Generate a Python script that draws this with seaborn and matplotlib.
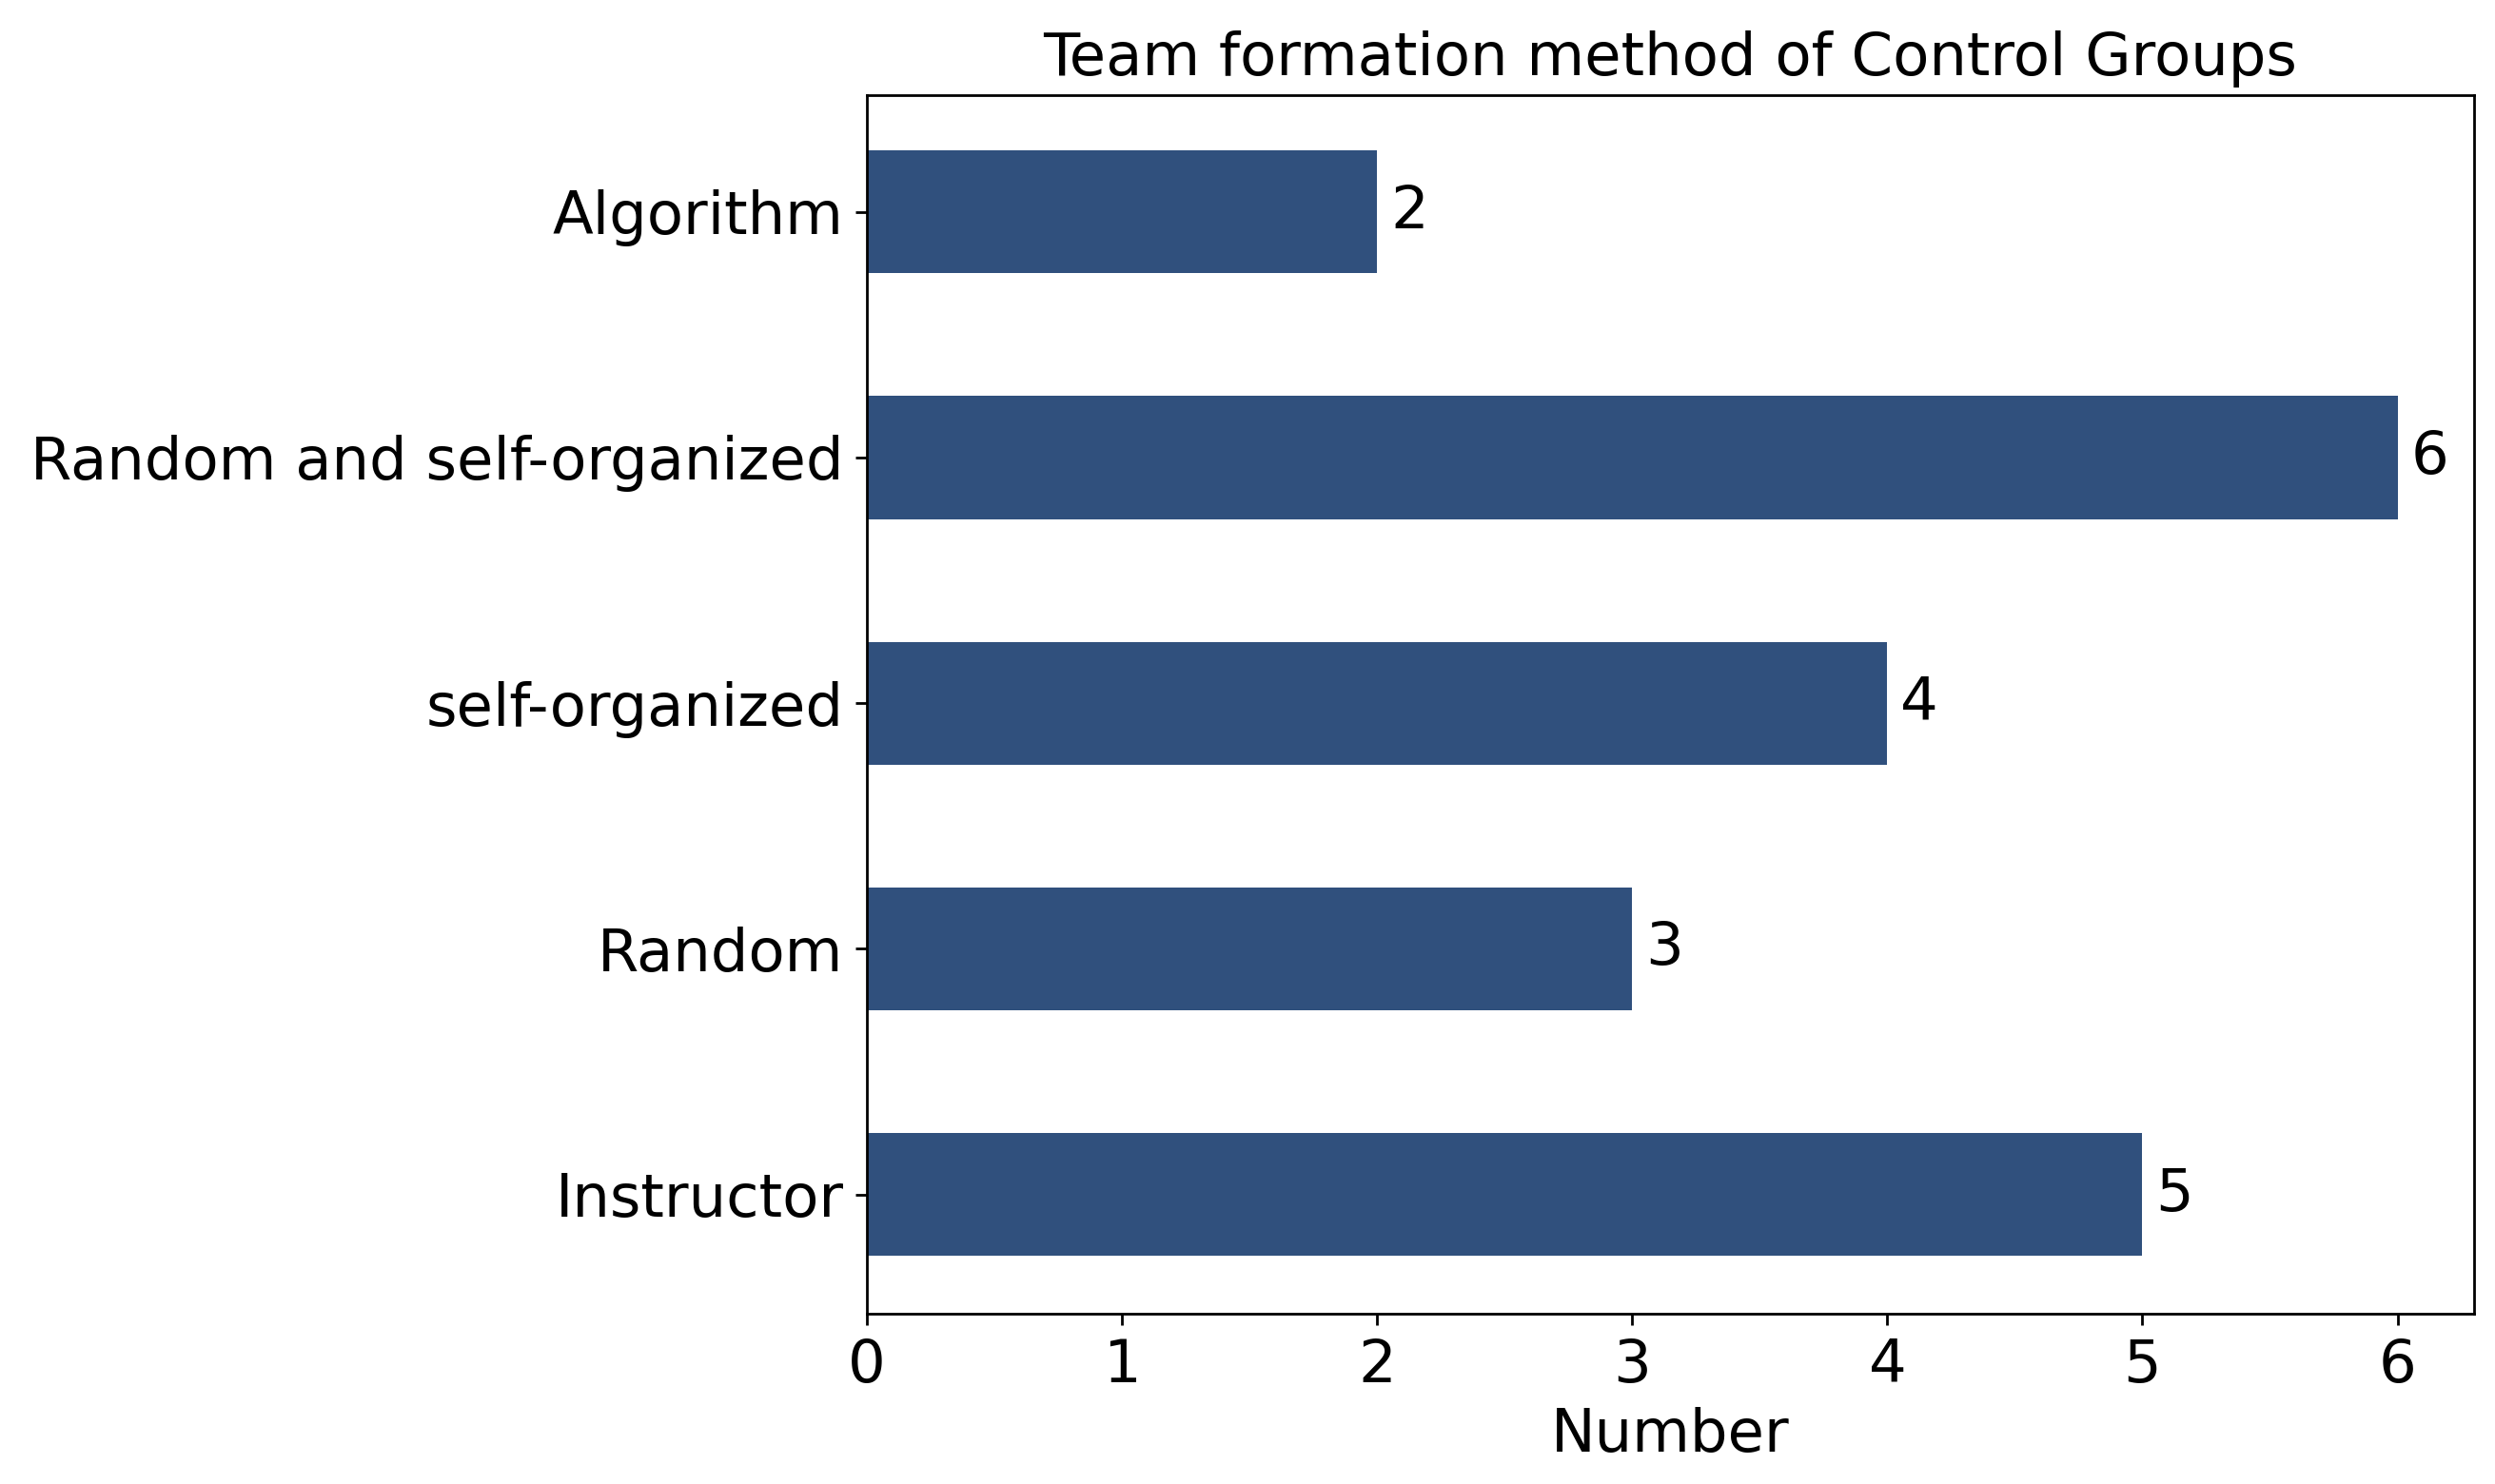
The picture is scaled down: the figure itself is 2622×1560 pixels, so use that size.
import pandas as pd
import matplotlib
matplotlib.use("Agg")
import matplotlib.pyplot as plt
import seaborn as sns

metodos = ["Algorithm", "Random and self-organized", "self-organized", "Random", "Instructor"]
numeros = [2, 6, 4, 3, 5]

df = pd.DataFrame({"metodo": metodos, "numero": numeros})

fs = 22.5
fig, ax = plt.subplots(figsize=(13.11, 7.8), dpi=200)
sns.barplot(data=df, x="numero", y="metodo", order=metodos, color="#30507d",
            width=0.5, saturation=1, orient="h", ax=ax)
ax.bar_label(ax.containers[0], padding=5, fontsize=fs)

ax.set_ylim(4.486, -0.476)
ax.set_xlim(0, 6.3)
ax.set_title("Team formation method of Control Groups", fontsize=fs, pad=7.5)
ax.set_xlabel("Number", fontsize=fs, labelpad=5)
ax.set_ylabel("")
ax.tick_params(axis="both", labelsize=fs, length=4.4, width=1.0, pad=4.4)
for s in ax.spines.values():
    s.set_linewidth(1.0)

plt.subplots_adjust(left=0.3475, right=0.9916, top=0.936, bottom=0.1147)
plt.savefig("out.png", dpi=200)
plt.close()
